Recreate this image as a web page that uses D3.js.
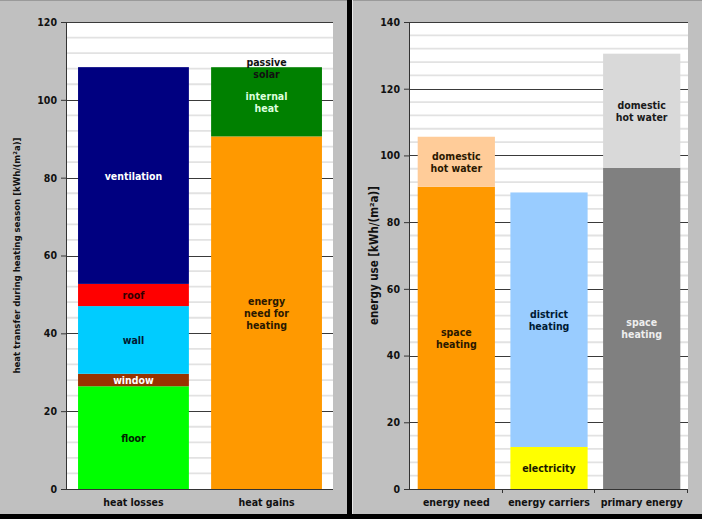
<!DOCTYPE html>
<html><head><meta charset="utf-8">
<script src="https://cdn.jsdelivr.net/npm/d3@7"></script>
<style>
html,body{margin:0;padding:0;background:#000;}
svg{display:block;}
text{font-family:"DejaVu Sans Condensed","DejaVu Sans",sans-serif;font-weight:bold;}
</style></head>
<body>
<svg id="c" width="702" height="519"></svg>
<script>
// ---------- data ----------
const leftCategories = ["heat losses", "heat gains"];
const lossLabels = ["floor", "window", "wall", "roof", "ventilation"];
const lossValues = [26.4, 3.2, 17.4, 5.7, 55.7];
const gainLabels = ["energy\nneed for\nheating", "internal\nheat", "passive\nsolar"];
const gainValues = [90.6, 17.6, 0.2];
const leftTicks = [0, 20, 40, 60, 80, 100, 120];
const leftTitle = "heat transfer during heating season [kWh/(m²a)]";

const rightCategories = ["energy need", "energy carriers", "primary energy"];
const needLabels = ["space\nheating", "domestic\nhot water"];
const needValues = [90.6, 15.0];
const carrierLabels = ["electricity", "district\nheating"];
const carrierValues = [12.6, 76.3];
const primaryLabels = ["space\nheating", "domestic\nhot water"];
const primaryValues = [96.3, 34.2];
const rightTicks = [0, 20, 40, 60, 80, 100, 120, 140];
const rightTitle = "energy use [kWh/(m²a)]";

// styles
const lossColors = ["#00ff00", "#993300", "#00ccff", "#ff0000", "#000080"];
const lossText = ["#002200", "#ffffff", "#001a33", "#330000", "#ffffff"];
const gainColors = ["#ff9900", "#008000", "#008000"];
const gainText = ["#2a1800", "#ddffdd", "#111111"];
const needColors = ["#ff9900", "#ffcc99"];
const needText = ["#2a1800", "#2a1800"];
const carrierColors = ["#ffff00", "#99ccff"];
const carrierText = ["#1a1a00", "#001a33"];
const primaryColors = ["#808080", "#d9d9d9"];
const primaryText = ["#eeeeee", "#1a1a1a"];

const svg = d3.select("#c");
// panels
svg.append("rect").attr("x", 0).attr("y", 0).attr("width", 347).attr("height", 514).attr("fill", "#c0c0c0");
svg.append("rect").attr("x", 353).attr("y", 0).attr("width", 349).attr("height", 514).attr("fill", "#c0c0c0");
svg.append("line").attr("x1", 352.5).attr("x2", 352.5).attr("y1", 0).attr("y2", 514).attr("stroke", "#e8e8e8");
svg.append("line").attr("x1", 0).attr("x2", 347).attr("y1", 0.5).attr("y2", 0.5).attr("stroke", "#9a9a9a");
svg.append("line").attr("x1", 353).attr("x2", 702).attr("y1", 0.5).attr("y2", 0.5).attr("stroke", "#9a9a9a");

function panel(opt) {
  const g = svg.append("g");
  const y = d3.scaleLinear().domain([0, opt.max]).range([opt.bottom, opt.top]);
  const x = d3.scaleBand().domain(opt.categories).range([opt.left, opt.right])
    .paddingInner(0.167).paddingOuter(0.083);
  // plot area
  g.append("rect").attr("x", opt.left).attr("y", opt.top)
    .attr("width", opt.right - opt.left).attr("height", opt.bottom - opt.top).attr("fill", "#fff");
  // minor gridlines
  const minor = d3.range(0, opt.max + 0.001, 4).filter(v => v % 20 !== 0);
  g.selectAll(".mn").data(minor).join("line")
    .attr("x1", opt.left).attr("x2", opt.right)
    .attr("y1", d => y(d)).attr("y2", d => y(d))
    .attr("stroke", "#e2e2e2").attr("stroke-width", 1.8);
  // major gridlines
  g.selectAll(".mj").data(opt.ticks.filter(v => v > 0)).join("line")
    .attr("x1", opt.left).attr("x2", opt.right)
    .attr("y1", d => Math.round(y(d)) + 0.5).attr("y2", d => Math.round(y(d)) + 0.5)
    .attr("stroke", "#3a3a3a").attr("stroke-width", 1);
  // stacked bars
  opt.stacks.forEach((s, i) => {
    const cat = opt.categories[i];
    let base = 0;
    s.values.forEach((v, j) => {
      const y0 = base, y1 = base + v;
      base = y1;
      g.append("rect").attr("x", x(cat)).attr("width", x.bandwidth())
        .attr("y", y(y1)).attr("height", y(y0) - y(y1)).attr("fill", s.colors[j]);
      const lines = s.labels[j].split("\n");
      const cy = y((y0 + y1) / 2);
      const t = g.append("text").attr("x", x(cat) + x.bandwidth() / 2)
        .attr("text-anchor", "middle").attr("font-size", 10.5).attr("fill", s.text[j]);
      lines.forEach((ln, k) => {
        t.append("tspan").attr("x", x(cat) + x.bandwidth() / 2)
          .attr("y", cy + (k - (lines.length - 1) / 2) * 12 + 4).text(ln);
      });
    });
  });
  // y axis
  const ya = g.append("g").attr("transform", `translate(${opt.left},0)`)
    .call(d3.axisLeft(y).tickValues(opt.ticks).tickSize(6).tickPadding(4).tickFormat(d3.format("d")));
  ya.select(".domain").attr("stroke", "#333").attr("d", `M-0.5,${opt.top}V${opt.bottom}`);
  ya.selectAll(".tick line").attr("stroke", "#333");
  ya.selectAll(".tick text").attr("font-size", 10.5).attr("fill", "#111")
    .style("font-family", '"DejaVu Sans Condensed","DejaVu Sans",sans-serif').style("font-weight", "bold");
  // x axis
  const xa = g.append("g").attr("transform", `translate(0,${opt.bottom})`)
    .call(d3.axisBottom(x).tickSize(0).tickPadding(10));
  xa.select(".domain").attr("stroke", "#333").attr("d", `M${opt.left},0.5H${opt.right}`);
  xa.selectAll(".tick text").attr("font-size", 10.5).attr("fill", "#111")
    .style("font-family", '"DejaVu Sans Condensed","DejaVu Sans",sans-serif').style("font-weight", "bold");
  if (opt.boundaryTicks) {
    const step = x.step();
    const bounds = d3.range(1, opt.categories.length + 1).map(k => opt.left + k * step);
    g.selectAll(".bt").data(bounds).join("line")
      .attr("x1", d => Math.round(d) - 0.5).attr("x2", d => Math.round(d) - 0.5)
      .attr("y1", opt.bottom).attr("y2", opt.bottom + 4).attr("stroke", "#333");
  }
  // y title
  g.append("text").attr("transform", `translate(${opt.titleX},${(opt.top + opt.bottom) / 2}) rotate(-90)`)
    .attr("text-anchor", "middle").attr("font-size", opt.titleSize).attr("fill", "#111").text(opt.title);
}

panel({
  categories: leftCategories, max: 120, ticks: leftTicks,
  left: 67, right: 333, top: 22, bottom: 489, titleX: 20, titleSize: 9.5, title: leftTitle,
  boundaryTicks: false,
  stacks: [
    {values: lossValues, labels: lossLabels, colors: lossColors, text: lossText},
    {values: gainValues, labels: gainLabels, colors: gainColors, text: gainText}
  ]
});
panel({
  categories: rightCategories, max: 140, ticks: rightTicks,
  left: 410, right: 688, top: 22, bottom: 489, titleX: 378, titleSize: 11.5, title: rightTitle,
  boundaryTicks: true,
  stacks: [
    {values: needValues, labels: needLabels, colors: needColors, text: needText},
    {values: carrierValues, labels: carrierLabels, colors: carrierColors, text: carrierText},
    {values: primaryValues, labels: primaryLabels, colors: primaryColors, text: primaryText}
  ]
});
</script>
</body></html>
